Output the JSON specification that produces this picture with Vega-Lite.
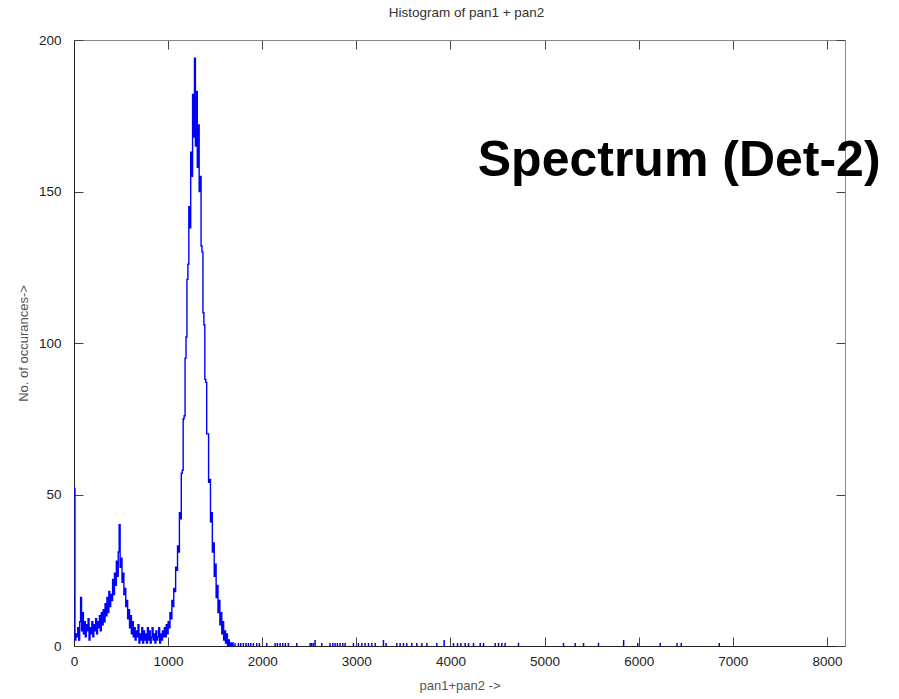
{
  "$schema": "https://vega.github.io/schema/vega-lite/v6.json",
  "autosize": {"type": "none"},
  "padding": {"left": 74, "top": 40, "right": 54, "bottom": 53},
  "width": 771,
  "height": 606,
  "background": "white",
  "config": {
    "view": {"stroke": null},
    "font": "Liberation Sans",
    "axis": {"grid": false, "labelFont": "Liberation Sans", "titleFont": "Liberation Sans", "labelFontSize": 13.5, "labelColor": "#222", "titleFontSize": 13, "titleFontWeight": "normal", "titleColor": "#555", "tickColor": "#444", "tickSize": -9, "domainColor": "#222", "format": "d"}
  },
  "title": {"text": "Histogram of pan1 + pan2", "fontSize": 13.5, "fontWeight": "normal", "color": "#333", "font": "Liberation Sans", "anchor": "middle", "frame": "group", "offset": 14, "dx": 7},
  "datasets": {
    "spectrum": [
      {"channel": 0, "count": 52}, {"channel": 10, "count": 2}, {"channel": 20, "count": 4}, {"channel": 30, "count": 3},
      {"channel": 40, "count": 6}, {"channel": 50, "count": 2}, {"channel": 60, "count": 8}, {"channel": 70, "count": 16},
      {"channel": 80, "count": 5}, {"channel": 90, "count": 11}, {"channel": 100, "count": 4}, {"channel": 110, "count": 8},
      {"channel": 120, "count": 3}, {"channel": 130, "count": 7}, {"channel": 140, "count": 5}, {"channel": 150, "count": 9},
      {"channel": 160, "count": 2}, {"channel": 170, "count": 6}, {"channel": 180, "count": 4}, {"channel": 190, "count": 8},
      {"channel": 200, "count": 3}, {"channel": 210, "count": 7}, {"channel": 220, "count": 5}, {"channel": 230, "count": 9},
      {"channel": 240, "count": 4}, {"channel": 250, "count": 8}, {"channel": 260, "count": 6}, {"channel": 270, "count": 10},
      {"channel": 280, "count": 5}, {"channel": 290, "count": 11}, {"channel": 300, "count": 7}, {"channel": 310, "count": 12},
      {"channel": 320, "count": 8}, {"channel": 330, "count": 14}, {"channel": 340, "count": 10}, {"channel": 350, "count": 16},
      {"channel": 360, "count": 11}, {"channel": 370, "count": 18}, {"channel": 380, "count": 13}, {"channel": 390, "count": 17},
      {"channel": 400, "count": 15}, {"channel": 410, "count": 22}, {"channel": 420, "count": 17}, {"channel": 430, "count": 24},
      {"channel": 440, "count": 20}, {"channel": 450, "count": 28}, {"channel": 460, "count": 23}, {"channel": 470, "count": 31},
      {"channel": 480, "count": 40}, {"channel": 490, "count": 26}, {"channel": 500, "count": 29}, {"channel": 510, "count": 21},
      {"channel": 520, "count": 24}, {"channel": 530, "count": 17}, {"channel": 540, "count": 19}, {"channel": 550, "count": 13},
      {"channel": 560, "count": 15}, {"channel": 570, "count": 9}, {"channel": 580, "count": 12}, {"channel": 590, "count": 6},
      {"channel": 600, "count": 10}, {"channel": 610, "count": 4}, {"channel": 620, "count": 8}, {"channel": 630, "count": 3},
      {"channel": 640, "count": 6}, {"channel": 650, "count": 2}, {"channel": 660, "count": 5}, {"channel": 670, "count": 3},
      {"channel": 680, "count": 7}, {"channel": 690, "count": 1}, {"channel": 700, "count": 4}, {"channel": 710, "count": 2},
      {"channel": 720, "count": 6}, {"channel": 730, "count": 1}, {"channel": 740, "count": 5}, {"channel": 750, "count": 2},
      {"channel": 760, "count": 4}, {"channel": 770, "count": 1}, {"channel": 780, "count": 6}, {"channel": 790, "count": 2},
      {"channel": 800, "count": 5}, {"channel": 810, "count": 1}, {"channel": 820, "count": 3}, {"channel": 830, "count": 6},
      {"channel": 840, "count": 2}, {"channel": 850, "count": 4}, {"channel": 860, "count": 1}, {"channel": 870, "count": 5},
      {"channel": 880, "count": 2}, {"channel": 890, "count": 3}, {"channel": 900, "count": 6}, {"channel": 910, "count": 1},
      {"channel": 920, "count": 4}, {"channel": 930, "count": 2}, {"channel": 940, "count": 5}, {"channel": 950, "count": 3},
      {"channel": 960, "count": 6}, {"channel": 970, "count": 3}, {"channel": 980, "count": 7}, {"channel": 990, "count": 4},
      {"channel": 1000, "count": 8}, {"channel": 1010, "count": 6}, {"channel": 1020, "count": 11}, {"channel": 1030, "count": 9},
      {"channel": 1040, "count": 15}, {"channel": 1050, "count": 13}, {"channel": 1060, "count": 19}, {"channel": 1070, "count": 18},
      {"channel": 1080, "count": 26}, {"channel": 1090, "count": 25}, {"channel": 1100, "count": 33}, {"channel": 1110, "count": 31},
      {"channel": 1120, "count": 44}, {"channel": 1130, "count": 42}, {"channel": 1140, "count": 57}, {"channel": 1150, "count": 58},
      {"channel": 1160, "count": 75}, {"channel": 1170, "count": 76}, {"channel": 1180, "count": 95}, {"channel": 1190, "count": 102},
      {"channel": 1200, "count": 121}, {"channel": 1210, "count": 126}, {"channel": 1220, "count": 145}, {"channel": 1230, "count": 138},
      {"channel": 1240, "count": 163}, {"channel": 1250, "count": 155}, {"channel": 1260, "count": 182}, {"channel": 1270, "count": 168},
      {"channel": 1280, "count": 194}, {"channel": 1290, "count": 165}, {"channel": 1300, "count": 183}, {"channel": 1310, "count": 158},
      {"channel": 1320, "count": 172}, {"channel": 1330, "count": 150}, {"channel": 1340, "count": 155}, {"channel": 1350, "count": 132},
      {"channel": 1360, "count": 130}, {"channel": 1370, "count": 110}, {"channel": 1380, "count": 106}, {"channel": 1390, "count": 88},
      {"channel": 1400, "count": 87}, {"channel": 1410, "count": 70}, {"channel": 1420, "count": 70}, {"channel": 1430, "count": 54},
      {"channel": 1440, "count": 55}, {"channel": 1450, "count": 41}, {"channel": 1460, "count": 44}, {"channel": 1470, "count": 31},
      {"channel": 1480, "count": 34}, {"channel": 1490, "count": 23}, {"channel": 1500, "count": 27}, {"channel": 1510, "count": 16},
      {"channel": 1520, "count": 20}, {"channel": 1530, "count": 11}, {"channel": 1540, "count": 15}, {"channel": 1550, "count": 7},
      {"channel": 1560, "count": 11}, {"channel": 1570, "count": 4}, {"channel": 1580, "count": 8}, {"channel": 1590, "count": 2},
      {"channel": 1600, "count": 5}, {"channel": 1610, "count": 1}, {"channel": 1620, "count": 4}, {"channel": 1630, "count": 0},
      {"channel": 1640, "count": 2}, {"channel": 1650, "count": 0}, {"channel": 1660, "count": 1}, {"channel": 1670, "count": 0},
      {"channel": 1680, "count": 1}, {"channel": 1690, "count": 0}, {"channel": 1700, "count": 0}
    ],
    "sparse": [
      {"channel": 1711, "count": 1}, {"channel": 1747, "count": 1}, {"channel": 1772, "count": 1}, {"channel": 1800, "count": 1},
      {"channel": 1828, "count": 1}, {"channel": 1853, "count": 1}, {"channel": 1878, "count": 1}, {"channel": 1906, "count": 1},
      {"channel": 1942, "count": 1}, {"channel": 1970, "count": 1}, {"channel": 2048, "count": 1}, {"channel": 2137, "count": 1},
      {"channel": 2161, "count": 1}, {"channel": 2190, "count": 1}, {"channel": 2218, "count": 1}, {"channel": 2246, "count": 1},
      {"channel": 2278, "count": 1}, {"channel": 2367, "count": 1}, {"channel": 2509, "count": 1}, {"channel": 2526, "count": 1},
      {"channel": 2544, "count": 1}, {"channel": 2562, "count": 2}, {"channel": 2633, "count": 1}, {"channel": 2721, "count": 1},
      {"channel": 2750, "count": 1}, {"channel": 2774, "count": 1}, {"channel": 2799, "count": 1}, {"channel": 2827, "count": 1},
      {"channel": 2856, "count": 1}, {"channel": 2881, "count": 1}, {"channel": 2969, "count": 1}, {"channel": 3022, "count": 1},
      {"channel": 3058, "count": 1}, {"channel": 3093, "count": 1}, {"channel": 3129, "count": 1}, {"channel": 3164, "count": 1},
      {"channel": 3200, "count": 1}, {"channel": 3288, "count": 2}, {"channel": 3316, "count": 1}, {"channel": 3430, "count": 1},
      {"channel": 3465, "count": 1}, {"channel": 3501, "count": 1}, {"channel": 3536, "count": 1}, {"channel": 3589, "count": 1},
      {"channel": 3642, "count": 1}, {"channel": 3696, "count": 1}, {"channel": 3749, "count": 1}, {"channel": 3855, "count": 1},
      {"channel": 3933, "count": 2}, {"channel": 4032, "count": 1}, {"channel": 4075, "count": 1}, {"channel": 4110, "count": 1},
      {"channel": 4156, "count": 1}, {"channel": 4192, "count": 1}, {"channel": 4245, "count": 1}, {"channel": 4316, "count": 1},
      {"channel": 4351, "count": 1}, {"channel": 4475, "count": 1}, {"channel": 4511, "count": 1}, {"channel": 4546, "count": 1},
      {"channel": 4581, "count": 1}, {"channel": 4723, "count": 1}, {"channel": 5201, "count": 1}, {"channel": 5325, "count": 1},
      {"channel": 5414, "count": 1}, {"channel": 5573, "count": 1}, {"channel": 5840, "count": 2}, {"channel": 5990, "count": 1},
      {"channel": 6229, "count": 1}, {"channel": 6407, "count": 1}, {"channel": 6452, "count": 1}, {"channel": 6856, "count": 1}
    ],
    "note": [
      {"channel": 6430, "count": 155, "label": "Spectrum (Det-2)"}
    ]
  },
  "resolve": {"axis": {"x": "independent", "y": "independent"}},
  "layer": [
    {
      "data": {"name": "spectrum"},
      "mark": {"type": "line", "interpolate": "step-after", "color": "#0000ff", "strokeWidth": 1.4},
      "encoding": {
        "x": {"field": "channel", "type": "quantitative", "scale": {"domain": [0, 8192], "nice": false, "zero": true, "padding": 0},
              "axis": {"orient": "bottom", "values": [0, 1000, 2000, 3000, 4000, 5000, 6000, 7000, 8000], "title": "pan1+pan2 ->", "labelPadding": 17, "titlePadding": 12, "labelFlush": false}},
        "y": {"field": "count", "type": "quantitative", "scale": {"domain": [0, 200], "nice": false, "padding": 0},
              "axis": {"orient": "left", "values": [0, 50, 100, 150, 200], "title": "No. of occurances->", "labelPadding": 22, "titlePadding": 8, "labelFlush": false}}
      }
    },
    {
      "data": {"name": "sparse"},
      "mark": {"type": "bar", "color": "#0000ff", "width": 1.5},
      "encoding": {
        "x": {"field": "channel", "type": "quantitative",
              "axis": {"orient": "top", "values": [0, 1000, 2000, 3000, 4000, 5000, 6000, 7000, 8000], "labels": false, "title": null, "domainColor": "#888"}},
        "y": {"field": "count", "type": "quantitative",
              "axis": {"orient": "right", "values": [0, 50, 100, 150, 200], "labels": false, "title": null, "domainColor": "#888"}}
      }
    },
    {
      "data": {"name": "note"},
      "mark": {"type": "text", "font": "Liberation Sans", "fontWeight": "bold", "fontSize": 50, "color": "#000", "align": "center", "baseline": "alphabetic"},
      "encoding": {
        "x": {"field": "channel", "type": "quantitative", "axis": {"orient": "top", "ticks": false, "labels": false, "domain": false, "title": null}},
        "y": {"field": "count", "type": "quantitative", "axis": {"orient": "right", "ticks": false, "labels": false, "domain": false, "title": null}},
        "text": {"field": "label"}
      }
    }
  ]
}
